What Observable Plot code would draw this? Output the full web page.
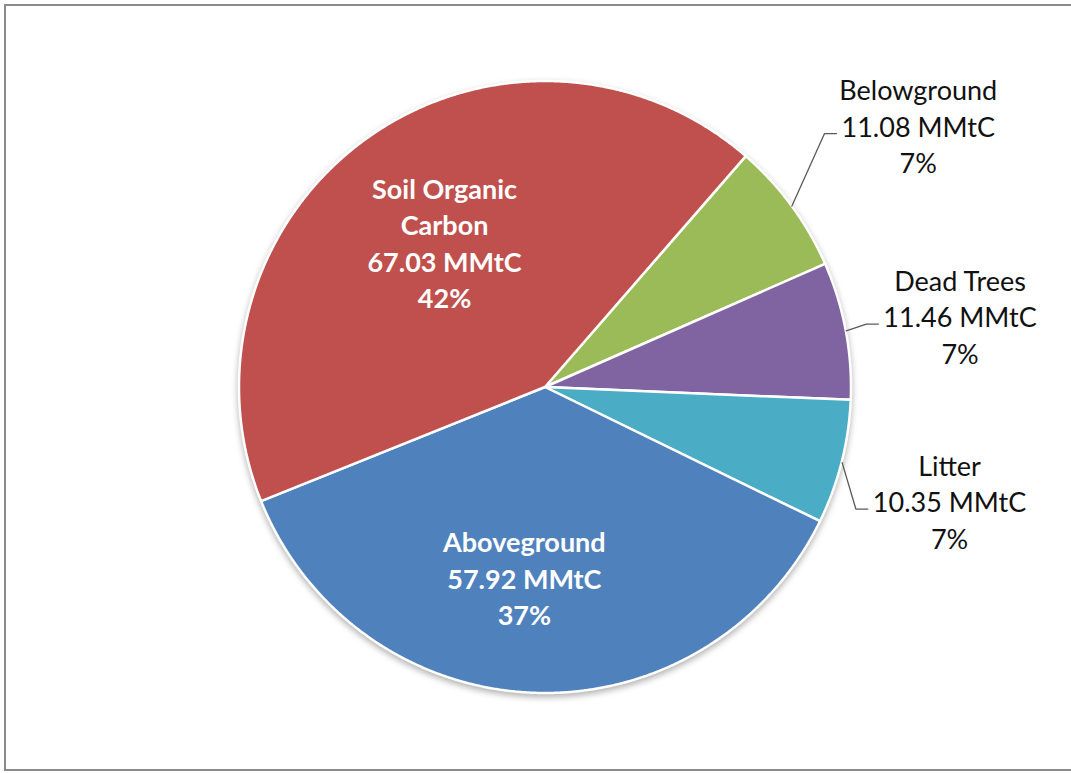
<!DOCTYPE html>
<html><head><meta charset="utf-8">
<script src="https://cdn.jsdelivr.net/npm/d3@7"></script>
<script src="https://cdn.jsdelivr.net/npm/@observablehq/plot@0.6"></script>
<style>
html,body{margin:0;padding:0;background:#fff;overflow:hidden;}
#frame{position:absolute;left:4px;top:4px;width:1100px;height:767px;box-sizing:border-box;border:2px solid #8a8a8a;}
#chart{position:absolute;left:0;top:0;}
</style></head><body>
<div id="frame"></div>
<div id="chart"></div>
<script>
// ---- data ----
const categories = ["Belowground", "Dead Trees", "Litter", "Aboveground", "Soil Organic Carbon"];
const values = [11.08, 11.46, 10.35, 57.92, 67.03];
const labelNames = ["Belowground", "Dead Trees", "Litter", "Aboveground", "Soil Organic\nCarbon"];
const unit = "MMtC";
const colors = ["#9BBB59", "#8064A2", "#4BACC6", "#4F81BD", "#C0504D"];

// ---- layout ----
const W = 1071, H = 773, CX = 545, CY = 387, R = 306;
const startDeg = 41;
const FS = 27;
const labelRadius = [1.49, 1.375, 1.371, 0.623, 0.579];
const labelNudgeDeg = [1.2, 0.8, 1.4, 4.3, 0.7];
const inside = [false, false, false, true, true];

const total = d3.sum(values);
const rows = categories.map((c, i) => ({name: c, value: values[i], i}));
const a0 = startDeg * Math.PI / 180;
const arcs = d3.pie().sort(null).value(d => d.value).startAngle(a0).endAngle(a0 + 2 * Math.PI)(rows);

// wedge outlines: arc points (u,v) paired with the centre (0,0)
const wedgePts = [];
for (const a of arcs) {
  const name = a.data.name;
  const n = Math.max(2, Math.ceil((a.endAngle - a.startAngle) / (0.25 * Math.PI / 180)));
  for (let k = 0; k <= n; k++) {
    const t = a.startAngle + (a.endAngle - a.startAngle) * k / n;
    wedgePts.push({name, u: Math.sin(t), v: Math.cos(t), u0: 0, v0: 0});
  }
}

// text measurement for leader ends
const ctx = document.createElement("canvas").getContext("2d");
ctx.font = `${FS}px Lato`;

const labels = [], leaders = [];
arcs.forEach((a, i) => {
  const mid = (a.startAngle + a.endAngle) / 2;
  const ang = mid + labelNudgeDeg[i] * Math.PI / 180;
  const u = labelRadius[i] * Math.sin(ang), v = labelRadius[i] * Math.cos(ang);
  const valueLine = `${values[i].toFixed(2)} ${unit}`;
  const pct = Math.round(values[i] / total * 100) + "%";
  labels.push({u, v, text: `${labelNames[i]}\n${valueLine}\n${pct}`, inside: inside[i]});
  if (!inside[i]) {
    const w = ctx.measureText(valueLine).width;
    const endU = u - (w / 2 + 5) / R;
    const baseV = v - (0.32 * FS) / R;
    leaders.push({name: a.data.name, u: Math.sin(mid), v: Math.cos(mid)});
    leaders.push({name: a.data.name, u: endU - 12 / R, v: baseV});
    leaders.push({name: a.data.name, u: endU, v: baseV});
  }
});

const svg = Plot.plot({
  width: W, height: H, margin: 0,
  x: {domain: [-CX / R, (W - CX) / R], axis: null},
  y: {domain: [(CY - H) / R, CY / R], axis: null},
  color: {type: "ordinal", domain: categories, range: colors},
  style: {fontFamily: "Lato, 'Open Sans', sans-serif", overflow: "visible", background: "transparent"},
  marks: [
    Plot.area(wedgePts, {x1: "u0", y1: "v0", x2: "u", y2: "v", z: "name", fill: "name",
      stroke: "white", strokeWidth: 2.5, strokeLinejoin: "round"}),
    Plot.line(leaders, {x: "u", y: "v", z: "name", stroke: "#595959", strokeWidth: 1.3}),
    Plot.text(labels.filter(d => d.inside), {x: "u", y: "v", text: "text", fill: "white",
      fontSize: FS, fontWeight: "bold", lineHeight: 1.35}),
    Plot.text(labels.filter(d => !d.inside), {x: "u", y: "v", text: "text", fill: "#111",
      fontSize: FS, lineHeight: 1.35})
  ]
});
const pie = svg.querySelector('g[aria-label="area"]');
if (pie) pie.style.filter = "drop-shadow(0px 3px 3px rgba(0,0,0,0.3))";
document.getElementById("chart").appendChild(svg);
</script>
</body></html>
